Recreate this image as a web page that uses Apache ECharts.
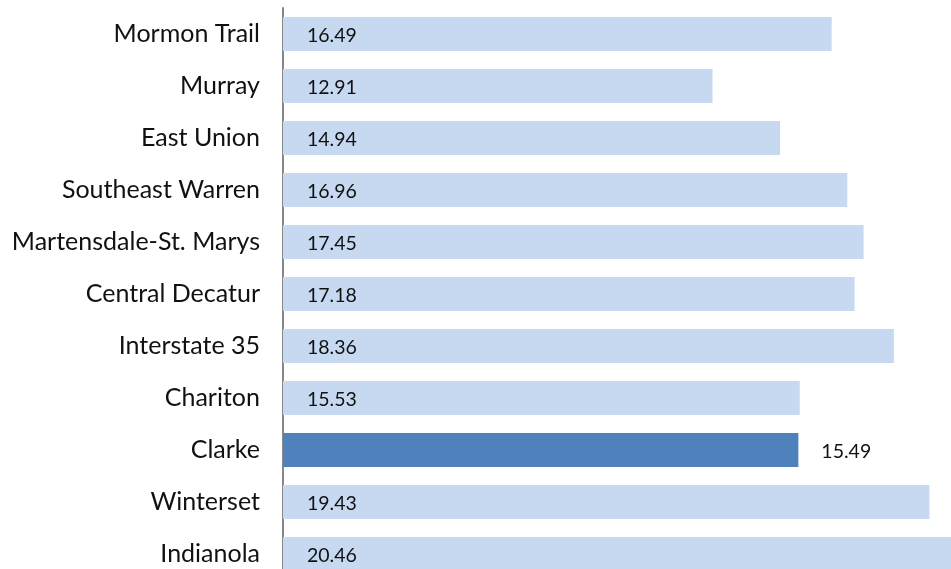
<!DOCTYPE html>
<html><head><meta charset="utf-8">
<script src="https://cdn.jsdelivr.net/npm/echarts@6/dist/echarts.min.js"></script>
<style>html,body{margin:0;padding:0;background:#fff}#c{width:951px;height:569px}</style>
</head><body><div id="c"></div>
<script>
var categories = ["Mormon Trail","Murray","East Union","Southeast Warren","Martensdale-St. Marys","Central Decatur","Interstate 35","Chariton","Clarke","Winterset","Indianola"];
var values = [16.49,12.91,14.94,16.96,17.45,17.18,18.36,15.53,15.49,19.43,20.46];
var highlight = "Clarke";

var FONT = "Lato";
var data = values.map(function(v,i){
  var hl = categories[i] === highlight;
  return {
    value: v,
    itemStyle: {color: hl ? "#4F81BD" : "#C6D9F1"},
    label: hl ? {position: "right", distance: 23} : {position: "insideLeft", distance: 24}
  };
});
var chart = echarts.init(document.getElementById("c"));
chart.setOption({
  animation: false,
  grid: {left: 283, top: 8, width: 698.7, height: 572, containLabel: false, outerBoundsMode: "none"},
  xAxis: {type: "value", min: 0, max: 21, show: false, splitLine: {show: false}},
  yAxis: {
    type: "category", data: categories, inverse: true,
    axisLine: {show: true, lineStyle: {color: "#878787", width: 2}},
    axisTick: {show: false},
    axisLabel: {margin: 23, color: "#111", fontFamily: FONT, fontSize: 25, padding: [2, 0, 0, 0]}
  },
  series: [{
    type: "bar", data: data, barWidth: 34,
    label: {show: true, color: "#111", fontFamily: FONT, fontSize: 19.5, offset: [0, 2],
      formatter: function(p){ return p.value.toFixed(2); }}
  }]
});
</script></body></html>
